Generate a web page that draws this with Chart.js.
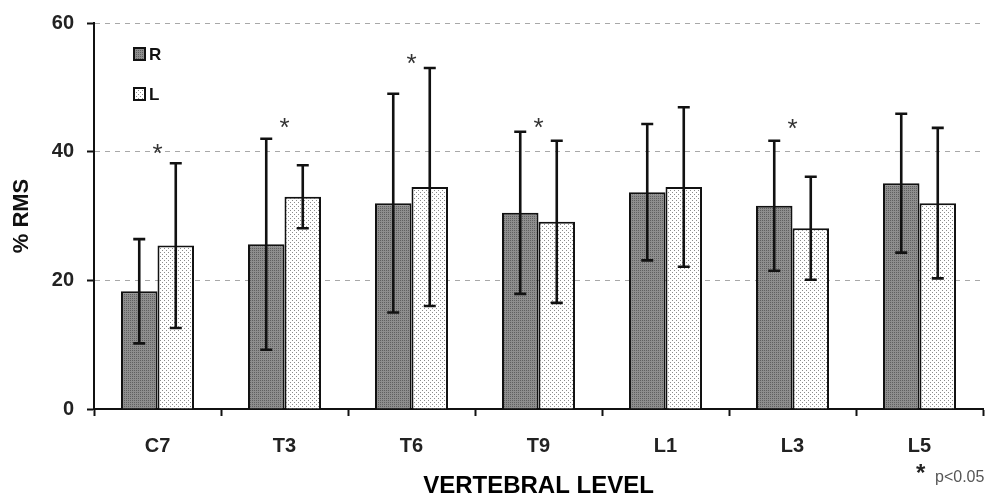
<!DOCTYPE html>
<html>
<head>
<meta charset="utf-8">
<script src="https://cdn.jsdelivr.net/npm/chart.js@4.4.1/dist/chart.umd.min.js"></script>
<style>
  html, body { margin: 0; padding: 0; background: #fff; }
  #wrap { width: 989px; height: 497px; position: relative; }
</style>
</head>
<body>
<div id="wrap"><canvas id="rms"></canvas></div>
<script>
// vertebral levels and %RMS values (mean and SD)
const levels = ['C7', 'T3', 'T6', 'T9', 'L1', 'L3', 'L5'];
const rightMean = [18.3, 25.6, 32.0, 30.5, 33.7, 31.6, 35.1];
const rightSd = [8.1, 16.4, 17.0, 12.6, 10.6, 10.1, 10.8];
const leftMean = [25.4, 33.0, 34.5, 29.1, 34.5, 28.1, 32.0];
const leftSd = [12.8, 4.9, 18.5, 12.6, 12.4, 8.0, 11.7];
// height (in % RMS) where the significance star sits, null = no star
const starLevel = [40, 44, 54, 44, null, 43.8, null];
const yTicks = [0, 20, 40, 60];

const FONT = 'Liberation Sans, Arial, sans-serif';

function makePattern(bg, dot, step, stagger) {
    const c = document.createElement('canvas');
    c.width = step;
    c.height = step;
    const g = c.getContext('2d');
    g.fillStyle = bg;
    g.fillRect(0, 0, step, step);
    g.fillStyle = dot;
    g.fillRect(0, 0, 1, 1);
    if (stagger) g.fillRect(step / 2, step / 2, 1, 1);
    return g.createPattern(c, 'repeat');
}

const rightFill = makePattern('#8e8e8e', '#606060', 2, false);
const leftFill = makePattern('#ffffff', '#8c8c8c', 4, true);

// error bars: mean +/- SD drawn through the y scale
const errorBars = {
    id: 'errorBars',
    afterDatasetsDraw(chart) {
        const { ctx, scales: { y } } = chart;
        ctx.save();
        ctx.strokeStyle = '#111';
        ctx.lineWidth = 2.6;
        chart.data.datasets.forEach((ds, di) => {
            const meta = chart.getDatasetMeta(di);
            meta.data.forEach((bar, i) => {
                const m = ds.data[i];
                const sd = ds.sd[i];
                const top = y.getPixelForValue(m + sd);
                const bot = y.getPixelForValue(m - sd);
                ctx.beginPath();
                ctx.moveTo(bar.x, top);
                ctx.lineTo(bar.x, bot);
                ctx.moveTo(bar.x - 6, top);
                ctx.lineTo(bar.x + 6, top);
                ctx.moveTo(bar.x - 6, bot);
                ctx.lineTo(bar.x + 6, bot);
                ctx.stroke();
            });
        });
        ctx.restore();
    }
};

// significance stars, legend and footnote
const annotations = {
    id: 'annotations',
    afterDraw(chart) {
        const { ctx, chartArea, scales: { x, y } } = chart;
        ctx.save();

        ctx.fillStyle = '#333';
        ctx.font = '26px ' + FONT;
        ctx.textAlign = 'center';
        ctx.textBaseline = 'alphabetic';
        starLevel.forEach((v, i) => {
            if (v === null) return;
            ctx.fillText('*', x.getPixelForValue(i), y.getPixelForValue(v) + 10);
        });

        // legend
        const items = [
            { label: 'R', fill: rightFill },
            { label: 'L', fill: leftFill }
        ];
        const lx = chartArea.left + 40;
        items.forEach((it, k) => {
            const ly = chartArea.top + 25 + k * 40;
            ctx.fillStyle = it.fill;
            ctx.fillRect(lx, ly, 11, 12);
            ctx.strokeStyle = '#111';
            ctx.lineWidth = 2;
            ctx.strokeRect(lx, ly, 11, 12);
            ctx.fillStyle = '#111';
            ctx.font = 'bold 17px ' + FONT;
            ctx.textAlign = 'left';
            ctx.textBaseline = 'middle';
            ctx.fillText(it.label, lx + 15, ly + 7);
        });

        // footnote
        ctx.fillStyle = '#222';
        ctx.font = 'bold 24px ' + FONT;
        ctx.textAlign = 'left';
        ctx.textBaseline = 'alphabetic';
        ctx.fillText('*', 916, 481);
        ctx.fillStyle = '#555';
        ctx.font = '16px ' + FONT;
        ctx.fillText('p<0.05', 935, 482);

        ctx.restore();
    }
};

const chart = new Chart(document.getElementById('rms'), {
    type: 'bar',
    data: {
        labels: levels,
        datasets: [
            {
                label: 'R',
                data: rightMean,
                sd: rightSd,
                backgroundColor: rightFill,
                borderColor: '#111',
                borderWidth: 2
            },
            {
                label: 'L',
                data: leftMean,
                sd: leftSd,
                backgroundColor: leftFill,
                borderColor: '#111',
                borderWidth: 2
            }
        ]
    },
    options: {
        responsive: true,
        maintainAspectRatio: false,
        animation: false,
        events: [],
        layout: { padding: { top: 23, right: 6, left: 0, bottom: 0 } },
        datasets: {
            bar: { categoryPercentage: 0.575, barPercentage: 1.0 }
        },
        plugins: {
            legend: { display: false },
            tooltip: { enabled: false }
        },
        scales: {
            x: {
                grid: {
                    offset: true,
                    drawOnChartArea: false,
                    drawTicks: true,
                    tickLength: 7,
                    tickColor: '#111',
                    tickWidth: 2
                },
                border: { color: '#111', width: 2 },
                ticks: {
                    color: '#222',
                    font: { family: FONT, size: 20, weight: 'bold' },
                    padding: 18
                },
                title: {
                    display: true,
                    text: 'VERTEBRAL LEVEL',
                    color: '#000',
                    font: { family: FONT, size: 24, weight: 'bold' },
                    padding: { top: 10, bottom: -4 }
                },
                afterFit(scale) { scale.height = 88; }
            },
            y: {
                min: 0,
                max: 60,
                afterBuildTicks(scale) {
                    scale.ticks = yTicks.map(v => ({ value: v }));
                },
                grid: {
                    color: ctx => (ctx.tick && ctx.tick.value === 0 ? 'rgba(0,0,0,0)' : '#a8a8a8'),
                    lineWidth: 1,
                    tickColor: '#111',
                    tickWidth: 2,
                    tickLength: 7
                },
                border: { color: '#111', width: 2, dash: [5, 5] },
                ticks: {
                    color: '#222',
                    font: { family: FONT, size: 20, weight: 'bold', lineHeight: 1 },
                    padding: 13
                },
                title: {
                    display: true,
                    text: '% RMS',
                    color: '#111',
                    font: { family: FONT, size: 22, weight: 'bold' },
                    padding: { top: 9, bottom: 0 }
                },
                afterFit(scale) {
                    scale.width = 94;
                    scale.paddingTop = 0;
                }
            }
        }
    },
    plugins: [errorBars, annotations]
});
</script>
</body>
</html>
